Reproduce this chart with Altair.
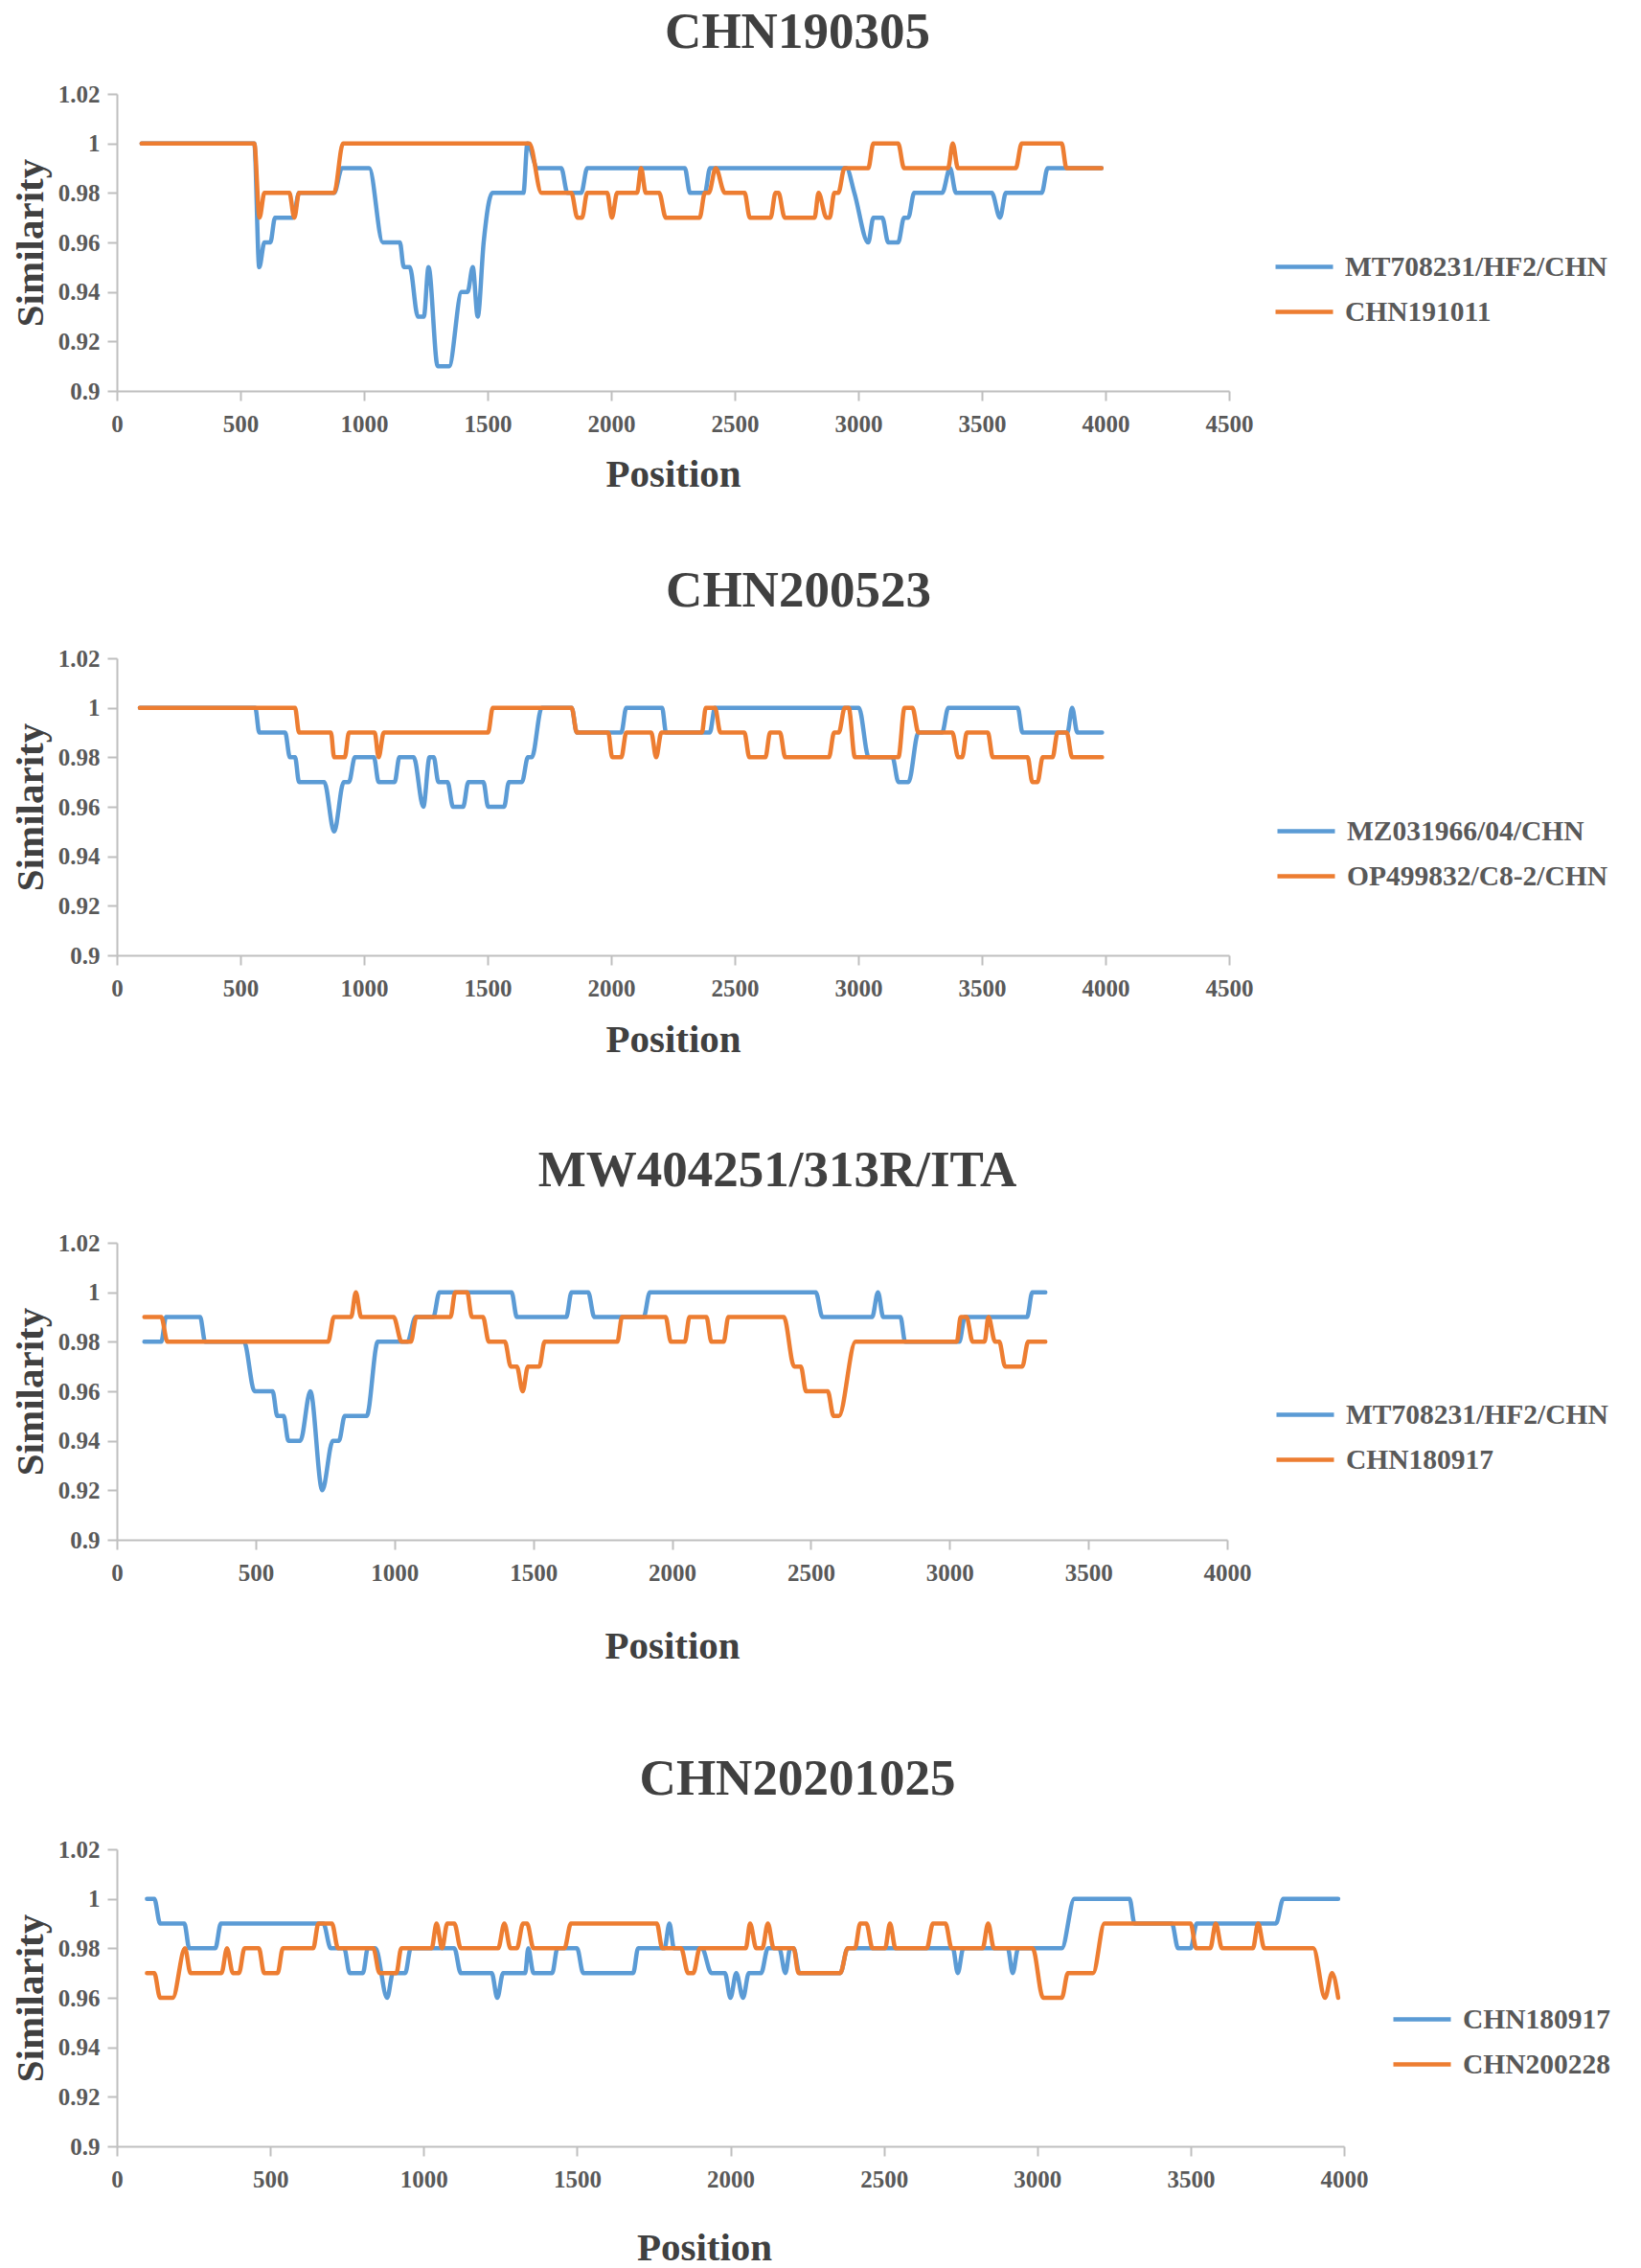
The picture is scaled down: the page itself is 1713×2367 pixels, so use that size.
import altair as alt
import pandas as pd

FONT = "Liberation Serif"
BLUE = "#5B9BD5"
ORANGE = "#ED7D31"

panel_titles = ["CHN190305", "CHN200523", "MW404251/313R/ITA", "CHN20201025"]
legend_names = [
    ["MT708231/HF2/CHN", "CHN191011"],
    ["MZ031966/04/CHN", "OP499832/C8-2/CHN"],
    ["MT708231/HF2/CHN", "CHN180917"],
    ["CHN180917", "CHN200228"],
]
x_max = [4500, 4500, 4000, 4000]
y_ticks = [0.9, 0.92, 0.94, 0.96, 0.98, 1.0, 1.02]

# ---- Panel 1: CHN190305 ----
p1_a_pos = [100, 556, 576, 597, 621, 640, 713, 737, 879, 911, 1021, 1076, 1145, 1161, 1185, 1218,
            1242, 1261, 1298, 1344, 1395, 1419, 1440, 1460, 1484, 1519, 1645, 1661, 1702, 1798,
            1823, 1879, 1903, 2298, 2319, 2379, 2400, 2952, 2984, 3040, 3061, 3097, 3121, 3161,
            3185, 3202, 3226, 3339, 3371, 3395, 3540, 3573, 3597, 3742, 3766, 3984]
p1_a_sim = [1, 1, .95, .96, .96, .97, .97, .98, .98, .99, .99, .96, .96, .95, .95, .93,
            .93, .95, .91, .91, .94, .94, .95, .93, .96, .98, .98, 1, .99, .99,
            .98, .98, .99, .99, .98, .98, .99, .99, .98, .96, .97, .97, .96, .96,
            .97, .97, .98, .98, .99, .98, .98, .97, .98, .98, .99, .99]
p1_b_pos = [100, 556, 577, 597, 698, 718, 737, 879, 915, 1669, 1718, 1839, 1863, 1882, 1903, 1984,
            2003, 2024, 2105, 2121, 2140, 2194, 2221, 2358, 2379, 2395, 2423, 2460, 2540, 2561,
            2645, 2665, 2677, 2702, 2823, 2839, 2871, 2884, 2903, 2919, 2944, 3040, 3061, 3161,
            3185, 3363, 3382, 3403, 3637, 3661, 3823, 3842, 3984]
p1_b_sim = [1, 1, .97, .98, .98, .97, .98, .98, 1, 1, .98, .98, .97, .97, .98, .98,
            .97, .98, .98, .99, .98, .98, .97, .97, .98, .98, .99, .98, .98, .97,
            .97, .98, .98, .97, .97, .98, .97, .97, .98, .98, .99, .99, 1, 1,
            .99, .99, 1, .99, .99, 1, 1, .99, .99]

# ---- Panel 2: CHN200523 ----
p2_a_pos = [93, 560, 576, 681, 700, 721, 737, 839, 879, 918, 939, 963, 1040, 1059, 1124, 1143,
            1201, 1240, 1265, 1282, 1301, 1338, 1360, 1401, 1422, 1483, 1502, 1567, 1586, 1639,
            1663, 1679, 1719, 1840, 1861, 2041, 2061, 2206, 2222, 2399, 2420, 3002, 3042, 3138,
            3162, 3203, 3243, 3339, 3364, 3645, 3664, 3846, 3865, 3886, 3986]
p2_a_sim = [1, 1, .99, .99, .98, .98, .97, .97, .95, .97, .97, .98, .98, .97, .97, .98,
            .98, .96, .98, .98, .97, .97, .96, .96, .97, .97, .96, .96, .97, .97,
            .98, .98, 1, 1, .99, .99, 1, 1, .99, .99, 1, 1, .98, .98,
            .97, .97, .99, .99, 1, 1, .99, .99, 1, .99, .99]
p2_b_pos = [93, 721, 737, 866, 879, 922, 939, 1043, 1059, 1080, 1502, 1521, 1840, 1861, 1988, 2004,
            2041, 2061, 2162, 2182, 2203, 2367, 2383, 2420, 2442, 2539, 2559, 2624, 2643, 2683,
            2704, 2881, 2902, 2921, 2945, 2961, 2986, 3162, 3187, 3219, 3243, 3380, 3404, 3420,
            3439, 3524, 3544, 3685, 3704, 3725, 3746, 3786, 3806, 3843, 3865, 3986]
p2_b_sim = [1, 1, .99, .99, .98, .98, .99, .99, .98, .99, .99, 1, 1, .99, .99, .98,
            .98, .99, .99, .98, .99, .99, 1, 1, .99, .99, .98, .98, .99, .99,
            .98, .98, .99, .99, 1, 1, .98, .98, 1, 1, .99, .99, .98, .98,
            .99, .99, .98, .98, .97, .97, .98, .98, .99, .99, .98, .98]

# ---- Panel 3: MW404251/313R/ITA ----
p3_a_pos = [99, 160, 177, 300, 318, 458, 496, 561, 578, 601, 618, 661, 697, 740, 778, 800,
            821, 900, 940, 1047, 1076, 1140, 1162, 1422, 1441, 1619, 1638, 1698, 1720, 1898,
            1920, 2518, 2542, 2721, 2742, 2761, 2823, 2840, 3035, 3055, 3279, 3298, 3345]
p3_a_sim = [.98, .98, .99, .99, .98, .98, .96, .96, .95, .95, .94, .94, .96, .92, .94, .94,
            .95, .95, .98, .98, .99, .99, 1, 1, .99, .99, 1, 1, .99, .99,
            1, 1, .99, .99, 1, .99, .99, .98, .98, .99, .99, 1, 1]
p3_b_pos = [99, 160, 182, 761, 782, 844, 861, 880, 997, 1026, 1059, 1079, 1202, 1219, 1262, 1279,
            1319, 1340, 1398, 1419, 1441, 1462, 1481, 1522, 1541, 1803, 1820, 1977, 1996, 2046,
            2063, 2124, 2142, 2186, 2203, 2403, 2440, 2464, 2483, 2561, 2582, 2601, 2661, 3026,
            3040, 3061, 3083, 3126, 3140, 3164, 3179, 3200, 3262, 3283, 3345]
p3_b_sim = [.99, .99, .98, .98, .99, .99, 1, .99, .99, .98, .98, .99, .99, 1, 1, .99,
            .99, .98, .98, .97, .97, .96, .97, .97, .98, .98, .99, .99, .98, .98,
            .99, .99, .98, .98, .99, .99, .97, .97, .96, .96, .95, .95, .98, .98,
            .99, .99, .98, .98, .99, .98, .98, .97, .97, .98, .98]

# ---- Panel 4: CHN20201025 ----
p4_a_pos = [98, 122, 141, 220, 236, 321, 339, 673, 697, 741, 759, 802, 818, 843, 881, 900,
            940, 958, 1100, 1121, 1222, 1240, 1259, 1331, 1341, 1358, 1419, 1436, 1500, 1520,
            1683, 1699, 1785, 1801, 1816, 1907, 1938, 1982, 2000, 2019, 2041, 2060, 2100, 2122,
            2159, 2179, 2195, 2206, 2225, 2358, 2382, 2725, 2741, 2759, 2904, 2920, 2938, 3080,
            3121, 3301, 3317, 3439, 3459, 3500, 3520, 3778, 3802, 3981]
p4_a_sim = [1, 1, .99, .99, .98, .98, .99, .99, .98, .98, .97, .97, .98, .98, .96, .97,
            .97, .98, .98, .97, .97, .96, .97, .97, .98, .97, .97, .98, .98, .97,
            .97, .98, .98, .99, .98, .98, .97, .97, .96, .97, .96, .97, .97, .98,
            .98, .97, .98, .98, .97, .97, .98, .98, .97, .98, .98, .97, .98, .98,
            1, 1, .99, .99, .98, .98, .99, .99, 1, 1]
p4_b_pos = [98, 122, 141, 182, 222, 240, 341, 359, 378, 398, 416, 463, 480, 524, 541, 640,
            657, 701, 721, 836, 856, 911, 927, 1026, 1042, 1060, 1077, 1100, 1121, 1243,
            1263, 1283, 1304, 1324, 1337, 1358, 1459, 1480, 1760, 1778, 1839, 1862, 1879, 1900,
            2050, 2064, 2084, 2104, 2122, 2141, 2206, 2222, 2358, 2382, 2406, 2423, 2443, 2463,
            2504, 2520, 2538, 2640, 2660, 2701, 2721, 2822, 2840, 2859, 2985, 3019, 3080, 3100,
            3182, 3219, 3500, 3518, 3564, 3582, 3602, 3703, 3720, 3740, 3900, 3938, 3961, 3981]
p4_b_sim = [.97, .97, .96, .96, .98, .97, .97, .98, .97, .97, .98, .98, .97, .97, .98, .98,
            .99, .99, .98, .98, .97, .97, .98, .98, .99, .98, .99, .99, .98, .98,
            .99, .98, .98, .99, .99, .98, .98, .99, .99, .98, .98, .97, .97, .98,
            .98, .99, .98, .98, .99, .98, .98, .97, .97, .98, .98, .99, .99, .98,
            .98, .99, .98, .98, .99, .99, .98, .98, .99, .98, .98, .96, .96, .97,
            .97, .99, .99, .98, .98, .99, .98, .98, .99, .98, .98, .96, .97, .96]

series_pos = [(p1_a_pos, p1_b_pos), (p2_a_pos, p2_b_pos), (p3_a_pos, p3_b_pos), (p4_a_pos, p4_b_pos)]
series_sim = [(p1_a_sim, p1_b_sim), (p2_a_sim, p2_b_sim), (p3_a_sim, p3_b_sim), (p4_a_sim, p4_b_sim)]

# layout per panel: plot width, title dx, title offset, legend x/y, x-title padding, x-title x
layout = [
    dict(width=1161, tdx=130, toff=25, lx=1207, ly=148, xtp=20, xtx=None),
    dict(width=1161, tdx=131, toff=31, lx=1209, ly=148, xtp=21, xtx=None),
    dict(width=1159, tdx=110, toff=36, lx=1208, ly=147, xtp=44, xtx=None),
    dict(width=1281, tdx=70, toff=34, lx=1330, ly=145, xtp=39, xtx=613),
]


def panel(i):
    n1, n2 = legend_names[i]
    ax, bx = series_pos[i]
    ay, by = series_sim[i]
    df = pd.DataFrame({
        "Position": list(ax) + list(bx),
        "Similarity": list(ay) + list(by),
        "series": [n1] * len(ax) + [n2] * len(bx),
    })
    L = layout[i]
    xaxis_kw = dict(values=list(range(0, x_max[i] + 1, 500)), format="d", title="Position",
                    titlePadding=L["xtp"], labelFlush=False)
    if L["xtx"] is not None:
        xaxis_kw["titleX"] = L["xtx"]
    return alt.Chart(df).mark_line(
        interpolate="monotone", strokeWidth=4.5, strokeCap="round", strokeJoin="round"
    ).encode(
        x=alt.X("Position:Q", scale=alt.Scale(domain=[0, x_max[i]], nice=False, zero=False),
                axis=alt.Axis(**xaxis_kw)),
        y=alt.Y("Similarity:Q", scale=alt.Scale(domain=[0.9, 1.02], nice=False, zero=False),
                axis=alt.Axis(values=y_ticks, labelExpr="format(datum.value, '.2~f')",
                              title="Similarity", titlePadding=7)),
        color=alt.Color("series:N", scale=alt.Scale(domain=[n1, n2], range=[BLUE, ORANGE]),
                        legend=alt.Legend(title=None, orient="none", legendX=L["lx"], legendY=L["ly"])),
    ).properties(
        width=L["width"], height=310,
        title=alt.TitleParams(text=panel_titles[i], fontSize=53, font=FONT, fontWeight="bold",
                              color="#404040", dx=L["tdx"], offset=L["toff"]),
    )


def spacer(h):
    return alt.Chart(pd.DataFrame({"v": [0]})).mark_point(opacity=0).encode(
        x=alt.value(0), y=alt.value(0)
    ).properties(width=10, height=h)


chart = alt.vconcat(
    panel(0), spacer(73), panel(1), spacer(88), panel(2), spacer(90), panel(3), spacing=0
).resolve_scale(color="independent").properties(
    padding={"left": 3, "top": 0, "right": 0, "bottom": 0}
).configure_view(
    strokeWidth=0
).configure_axis(
    domainColor="#BFBFBF", domainWidth=2, tickColor="#BFBFBF", tickWidth=2, tickSize=10,
    labelFont=FONT, labelFontSize=25, labelFontWeight="bold", labelColor="#595959",
    titleFont=FONT, titleFontSize=41, titleFontWeight="bold", titleColor="#404040", grid=False,
).configure_axisX(labelPadding=12).configure_axisY(labelPadding=8).configure_legend(
    labelFont=FONT, labelFontSize=29.5, labelFontWeight="bold", labelColor="#595959",
    symbolType="stroke", symbolSize=3600, symbolStrokeWidth=4.5, labelOffset=10,
    rowPadding=-1, labelLimit=500,
)

chart.save("out.html", embed_options={"renderer": "svg", "actions": False})
